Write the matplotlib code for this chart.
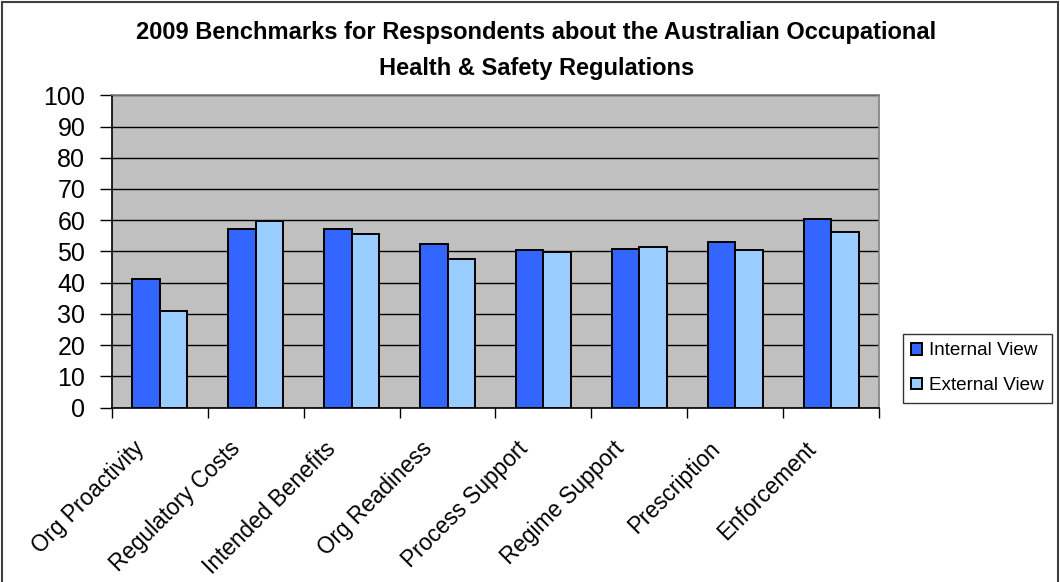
import numpy as np
import matplotlib
matplotlib.use("Agg")
import matplotlib.pyplot as plt
from matplotlib.patches import Rectangle
from matplotlib.transforms import blended_transform_factory, ScaledTranslation

plt.rcParams['font.family'] = ['Liberation Sans', 'DejaVu Sans']

categories = ["Org Proactivity", "Regulatory Costs", "Intended Benefits", "Org Readiness",
              "Process Support", "Regime Support", "Prescription", "Enforcement"]
internal_view = [41.0, 57.2, 57.2, 52.5, 50.4, 50.9, 53.0, 60.5]
external_view = [31.0, 59.8, 55.6, 47.7, 49.8, 51.5, 50.4, 56.2]
yticks = list(range(0, 101, 10))

W, H = 1060, 582
fig = plt.figure(figsize=(W / 100, H / 100), dpi=100)
fig.patch.set_facecolor("white")

# plot area in pixels: x 111.7..879.3, y 95.3..407.5
ax = fig.add_axes([111.7 / W, 1 - 407.5 / H, (879.3 - 111.7) / W, (407.5 - 95.3) / H])
ax.set_facecolor("#C0C0C0")

x = np.arange(len(categories))
bw = 0.287
ax.bar(x - bw / 2, internal_view, bw, color="#3366FF", edgecolor="black", linewidth=1.4,
       label="Internal View", zorder=3)
ax.bar(x + bw / 2, external_view, bw, color="#99CCFF", edgecolor="black", linewidth=1.4,
       label="External View", zorder=3)

ax.set_xlim(-0.5, len(categories) - 0.5)
ax.set_ylim(0, 100)
ax.set_yticks(yticks)
ax.set_yticklabels([str(v) for v in yticks], fontsize=18)
ax.yaxis.grid(True, color="black", linewidth=1.0, zorder=1)
ax.set_axisbelow(True)

# ticks on the category boundaries, labels drawn separately under the centres
ax.set_xticks(np.arange(len(categories) + 1) - 0.5)
ax.set_xticklabels([])
ax.tick_params(axis="x", length=7, width=1, color="black", direction="out")
ax.tick_params(axis="y", length=9, width=1, color="black", direction="out", pad=10)

trans = blended_transform_factory(ax.transData, ax.transAxes)
shift = ScaledTranslation(-27 / 100, 0, fig.dpi_scale_trans)
for i, name in enumerate(categories):
    ax.text(i, -(437 - 407.5) / 312.2, name, transform=trans + shift, rotation=45,
            rotation_mode="anchor", ha="right", va="top", fontsize=16.3, clip_on=False)

for side in ("top", "right"):
    ax.spines[side].set_color("#808080")
    ax.spines[side].set_linewidth(1.2)
for side in ("left", "bottom"):
    ax.spines[side].set_color("black")
    ax.spines[side].set_linewidth(1.2)

fig.text(0.506, 1 - 33 / H, "2009 Benchmarks for Respsondents about the Australian Occupational",
         ha="center", va="center", fontsize=17, fontweight="bold")
fig.text(0.506, 1 - 68 / H, "Health & Safety Regulations",
         ha="center", va="center", fontsize=17, fontweight="bold")

leg = fig.legend(loc="upper left", bbox_to_anchor=(902.7 / W, 1 - 334 / H),
                 fontsize=13.6, frameon=True, fancybox=False, edgecolor="black",
                 handlelength=0.55, handleheight=0.55, handletextpad=0.4,
                 borderpad=0.45, labelspacing=0.95, borderaxespad=0)
leg.get_frame().set_linewidth(1.0)

fig.patches.append(Rectangle((2 / W, -0.05), (W - 4) / W, 1.05 - 2 / H, transform=fig.transFigure,
                             fill=False, edgecolor="#404040", linewidth=1.5))

fig.savefig("out.png", dpi=100)
